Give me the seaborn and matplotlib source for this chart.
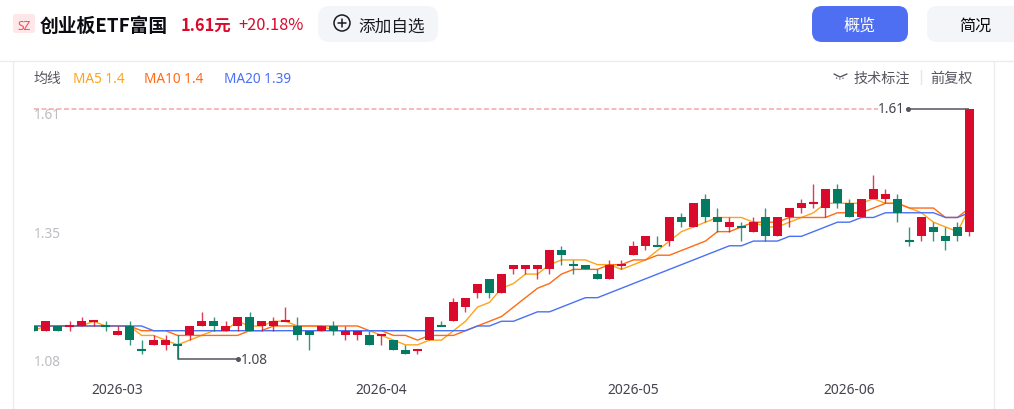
import numpy as np
import pandas as pd
import seaborn as sns
import matplotlib
matplotlib.use("Agg")
import matplotlib.pyplot as plt
from matplotlib.patches import FancyBboxPatch, Circle

# ----------------------
# data
# ----------------------
direction = list("GRGRRRGRGGRRGRRGRRGRRRGGRGRRGRGGRRGRRRGRRRRRGGGGRRRRGRGRGGRGRGRRRRRGGRRRGGRGGGR")

opens = [1.15, 1.14, 1.15, 1.15, 1.15, 1.16, 1.15, 1.13, 1.15, 1.10,
         1.11, 1.11, 1.11, 1.13, 1.15, 1.16, 1.14, 1.15, 1.17, 1.15,
         1.15, 1.16, 1.15, 1.14, 1.14, 1.15, 1.13, 1.13, 1.13, 1.13,
         1.12, 1.10, 1.10, 1.12, 1.15, 1.16, 1.19, 1.22, 1.25, 1.22,
         1.27, 1.27, 1.27, 1.27, 1.31, 1.28, 1.28, 1.26, 1.25, 1.28,
         1.30, 1.32, 1.32, 1.33, 1.38, 1.36, 1.42, 1.38, 1.36, 1.36,
         1.35, 1.38, 1.34, 1.38, 1.40, 1.41, 1.40, 1.44, 1.41, 1.38,
         1.42, 1.42, 1.42, 1.33, 1.34, 1.36, 1.34, 1.36, 1.35]
closes = [1.14, 1.16, 1.14, 1.15, 1.16, 1.16, 1.15, 1.14, 1.12, 1.10,
          1.12, 1.12, 1.11, 1.15, 1.16, 1.15, 1.15, 1.17, 1.14, 1.16,
          1.16, 1.16, 1.13, 1.13, 1.15, 1.14, 1.14, 1.14, 1.11, 1.13,
          1.10, 1.09, 1.10, 1.17, 1.15, 1.20, 1.21, 1.24, 1.22, 1.26,
          1.28, 1.28, 1.28, 1.31, 1.30, 1.28, 1.27, 1.25, 1.28, 1.28,
          1.32, 1.34, 1.32, 1.38, 1.37, 1.41, 1.38, 1.37, 1.37, 1.36,
          1.37, 1.34, 1.38, 1.40, 1.41, 1.41, 1.44, 1.41, 1.38, 1.42,
          1.44, 1.43, 1.39, 1.33, 1.38, 1.35, 1.33, 1.34, 1.61]
highs = [1.15, 1.16, 1.15, 1.16, 1.17, 1.16, 1.16, 1.15, 1.16, 1.12,
         1.13, 1.13, 1.13, 1.15, 1.18, 1.17, 1.16, 1.17, 1.18, 1.16,
         1.17, 1.19, 1.17, 1.14, 1.15, 1.16, 1.15, 1.14, 1.14, 1.13,
         1.12, 1.11, 1.10, 1.17, 1.16, 1.21, 1.21, 1.24, 1.25, 1.26,
         1.28, 1.28, 1.28, 1.31, 1.32, 1.29, 1.28, 1.27, 1.29, 1.29,
         1.33, 1.34, 1.34, 1.38, 1.39, 1.41, 1.43, 1.40, 1.38, 1.37,
         1.38, 1.40, 1.38, 1.40, 1.42, 1.45, 1.44, 1.45, 1.42, 1.42,
         1.47, 1.44, 1.43, 1.36, 1.38, 1.37, 1.36, 1.37, 1.61]
lows = [1.14, 1.14, 1.14, 1.14, 1.15, 1.15, 1.14, 1.13, 1.11, 1.09,
        1.11, 1.10, 1.08, 1.12, 1.15, 1.14, 1.14, 1.14, 1.14, 1.14,
        1.14, 1.16, 1.12, 1.10, 1.14, 1.13, 1.12, 1.12, 1.11, 1.11,
        1.10, 1.09, 1.09, 1.12, 1.15, 1.16, 1.18, 1.21, 1.21, 1.22,
        1.26, 1.26, 1.25, 1.26, 1.28, 1.26, 1.27, 1.25, 1.25, 1.27,
        1.30, 1.31, 1.32, 1.32, 1.36, 1.36, 1.37, 1.35, 1.35, 1.33,
        1.35, 1.33, 1.34, 1.36, 1.39, 1.40, 1.38, 1.40, 1.38, 1.38,
        1.42, 1.41, 1.37, 1.32, 1.33, 1.33, 1.31, 1.33, 1.34]

ma5 = [1.14, 1.15, 1.15, 1.15, 1.15, 1.16, 1.15, 1.15, 1.15, 1.13,
       1.13, 1.12, 1.11, 1.12, 1.13, 1.14, 1.14, 1.16, 1.15, 1.15,
       1.16, 1.16, 1.15, 1.15, 1.15, 1.14, 1.14, 1.14, 1.14, 1.13,
       1.12, 1.11, 1.11, 1.12, 1.12, 1.14, 1.16, 1.19, 1.20, 1.23,
       1.24, 1.26, 1.26, 1.28, 1.29, 1.29, 1.29, 1.28, 1.28, 1.27,
       1.28, 1.29, 1.31, 1.33, 1.35, 1.36, 1.37, 1.38, 1.38, 1.38,
       1.37, 1.36, 1.36, 1.37, 1.38, 1.39, 1.41, 1.41, 1.41, 1.41,
       1.42, 1.41, 1.41, 1.40, 1.39, 1.37, 1.36, 1.35, 1.40]
ma10 = [1.15, 1.15, 1.15, 1.15, 1.15, 1.15, 1.15, 1.15, 1.15, 1.14,
        1.14, 1.14, 1.13, 1.13, 1.13, 1.13, 1.13, 1.13, 1.14, 1.14,
        1.15, 1.15, 1.15, 1.15, 1.15, 1.15, 1.15, 1.15, 1.14, 1.14,
        1.13, 1.13, 1.12, 1.13, 1.13, 1.13, 1.14, 1.15, 1.16, 1.17,
        1.19, 1.21, 1.23, 1.24, 1.26, 1.27, 1.27, 1.27, 1.28, 1.28,
        1.29, 1.29, 1.30, 1.30, 1.31, 1.32, 1.33, 1.35, 1.35, 1.36,
        1.37, 1.37, 1.37, 1.38, 1.38, 1.38, 1.38, 1.39, 1.39, 1.39,
        1.40, 1.41, 1.41, 1.40, 1.40, 1.40, 1.38, 1.38, 1.40]
ma20 = [1.15, 1.15, 1.15, 1.15, 1.15, 1.15, 1.15, 1.15, 1.15, 1.15,
        1.14, 1.14, 1.14, 1.14, 1.14, 1.14, 1.14, 1.14, 1.14, 1.14,
        1.14, 1.14, 1.14, 1.14, 1.14, 1.14, 1.14, 1.14, 1.14, 1.14,
        1.14, 1.14, 1.14, 1.14, 1.14, 1.14, 1.14, 1.15, 1.15, 1.16,
        1.16, 1.17, 1.18, 1.18, 1.19, 1.20, 1.21, 1.21, 1.22, 1.23,
        1.24, 1.25, 1.26, 1.27, 1.28, 1.29, 1.30, 1.31, 1.32, 1.32,
        1.33, 1.33, 1.33, 1.34, 1.34, 1.35, 1.36, 1.37, 1.37, 1.38,
        1.38, 1.39, 1.39, 1.39, 1.39, 1.39, 1.38, 1.38, 1.39]

month_pos = [7, 29, 50, 68]
month_labels = ["2026-03", "2026-04", "2026-05", "2026-06"]
price_labels = [1.61, 1.35, 1.08]

RED = "#d90a2c"
GREEN = "#057a63"
C_MA5 = "#ffa31a"
C_MA10 = "#ff6a14"
C_MA20 = "#4a70f5"

df = pd.DataFrame({"day": np.arange(len(opens)), "open": opens, "close": closes,
                   "high": highs, "low": lows, "dir": direction,
                   "ma5": ma5, "ma10": ma10, "ma20": ma20})
df["color"] = df["dir"].map({"R": RED, "G": GREEN})

sns.set_theme(style="white")
plt.rcParams["font.family"] = ["Noto Sans", "Noto Sans CJK SC", "DejaVu Sans"]

W, H = 1014, 410
fig = plt.figure(figsize=(W / 100, H / 100), dpi=100, facecolor="white")

# page furniture is laid out in pixels on an overlay
page = fig.add_axes([0, 0, 1, 1], zorder=0)
page.set_xlim(0, W)
page.set_ylim(H, 0)
page.axis("off")

# ----------------------
# chart
# ----------------------
ax = fig.add_axes([34 / W, 1 - 381 / H, 940 / W, 280 / H], zorder=1)
ax.patch.set_alpha(0)
ax.set_xlim(0.04, 78.38)
ax.set_ylim(1.0355, 1.629)
sns.despine(ax=ax, left=True, bottom=True)

ax.hlines(1.61, 0.04, 70.4, color="#f6aeae", lw=1.2, linestyles=(0, (3, 1.5)), zorder=1)

for col, c in [("ma5", C_MA5), ("ma10", C_MA10), ("ma20", C_MA20)]:
    sns.lineplot(data=df, x="day", y=col, color=c, linewidth=1.0, errorbar=None, ax=ax, zorder=2)

ax.vlines(df["day"], df["low"], df["high"], color=df["color"], lw=1.0, alpha=0.8, zorder=3)
body = df[df["open"] != df["close"]]
ax.bar(body["day"], (body["close"] - body["open"]).abs(), bottom=body[["open", "close"]].min(axis=1),
       width=0.68, color=body["color"], linewidth=0, zorder=4)
flat = df[df["open"] == df["close"]]
ax.hlines(flat["close"], flat["day"] - 0.34, flat["day"] + 0.34, color=flat["color"], lw=1.5, zorder=4)

# high and low markers
ax.plot([72.9, 78], [1.61, 1.61], color="#55565f", lw=1.1, zorder=5, solid_capstyle="butt")
ax.plot([72.9], [1.61], "o", color="#55565f", ms=2.6, zorder=5)
ax.text(72.65, 1.61, "1.61", ha="right", va="center", fontsize=9.8, color="#43444d", zorder=5)
ax.plot([12, 12, 17], [1.11, 1.08, 1.08], color="#55565f", lw=1.1, zorder=2, solid_capstyle="butt")
ax.plot([17], [1.08], "o", color="#55565f", ms=2.6, zorder=5)
ax.text(17.25, 1.08, "1.08", ha="left", va="center", fontsize=9.8, color="#43444d", zorder=5)

ax.set_xticks(month_pos, month_labels)
ax.tick_params(axis="x", length=0, pad=1.5, labelsize=10, labelcolor="#43444d")
ax.set_xlabel("")
ax.set_ylabel("")
ax.set_yticks([])
for val, dy in zip(price_labels, [-6, -2, -2]):
    ax.annotate(f"{val:.2f}", xy=(0, val), xycoords=ax.get_yaxis_transform(),
                xytext=(0, dy), textcoords="offset pixels", ha="left", va="center",
                fontsize=9.8, color="#bcbcc2")

# ----------------------
# header and panel frame
# ----------------------
page.plot([0, W], [61.5, 61.5], color="#ececee", lw=1)
page.plot([13, 13], [61.5, H], color="#ececee", lw=1)
page.plot([993.5, 993.5], [61.5, H], color="#ececee", lw=1)


def round_box(x0, y0, x1, y1, r, fc):
    page.add_patch(FancyBboxPatch((x0 + r, y0 + r), x1 - x0 - 2 * r, y1 - y0 - 2 * r,
                                  boxstyle=f"round,pad={r},rounding_size={r}", fc=fc, ec="none"))


bold_font = ["Noto Sans CJK SC", "DejaVu Sans"]
round_box(13, 15, 35, 34, 3, "#fde7e9")
page.text(24, 26, "SZ", ha="center", va="center", fontsize=8.6, color="#ee4d5f")
page.text(40, 26, "创业板ETF富国", ha="left", va="center", fontsize=13.5, fontweight="bold",
          color="#0b0b12", family=bold_font)
page.text(181, 26, "1.61元", ha="left", va="center", fontsize=11.8, fontweight="bold",
          color=RED, family=bold_font)
page.text(238, 26, "+20.18%", ha="left", va="center", fontsize=11.8, fontweight="medium",
          color=RED, family=bold_font)

round_box(318, 7, 438, 43, 11, "#f4f5f9")
page.add_patch(Circle((342, 24), 8, fc="none", ec="#1a1a22", lw=1.1))
page.plot([338, 346], [24, 24], color="#1a1a22", lw=1.1)
page.plot([342, 342], [20, 28], color="#1a1a22", lw=1.1)
page.text(358, 28, "添加自选", ha="left", va="center", fontsize=12, color="#1a1a22")

round_box(812, 7, 908, 43, 10, "#4f6ff3")
page.text(860, 26.5, "概览", ha="center", va="center", fontsize=11.6, color="white")
round_box(927, 7, 1030, 43, 10, "#f4f5f9")
page.text(975, 26.5, "简况", ha="center", va="center", fontsize=11.6, color="#0b0b12")

page.text(34, 79.5, "均线", ha="left", va="center", fontsize=10, color="#55565f")
page.text(73, 79.5, "MA5 1.4", ha="left", va="center", fontsize=9.8, color=C_MA5)
page.text(144, 79.5, "MA10 1.4", ha="left", va="center", fontsize=9.8, color=C_MA10)
page.text(224, 79.5, "MA20 1.39", ha="left", va="center", fontsize=9.8, color=C_MA20)

# eye icon
page.plot([834, 840, 847], [75, 78, 75], color="#55565f", lw=1)
page.plot([836, 840, 844], [79, 80, 79], color="#55565f", lw=0.9, ls=":")
page.text(853, 79.5, "技术标注", ha="left", va="center", fontsize=10.2, color="#55565f")
page.plot([920.5, 920.5], [71, 85], color="#e6e6ea", lw=1)
page.text(930, 79.5, "前复权", ha="left", va="center", fontsize=10.2, color="#55565f")

fig.savefig("out.png", dpi=100, facecolor="white")
